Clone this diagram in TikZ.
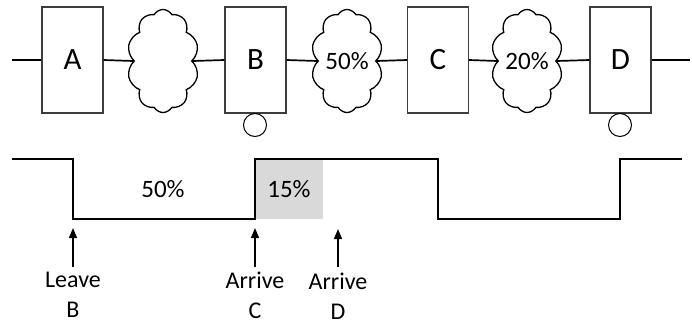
\documentclass[tikz,border=0pt]{standalone}
\usepackage{fontspec}
\setmainfont{Carlito}
\usetikzlibrary{shapes.symbols,arrows.meta}
\definecolor{cellgray}{RGB}{217,217,217}
\definecolor{boxline}{RGB}{60,60,60}
\begin{document}
\begin{tikzpicture}[x=1pt,y=-1pt,
  stage/.style={draw=boxline,line width=1.1pt,fill=white,minimum width=61pt,minimum height=106pt,inner sep=0pt,font=\fontsize{31}{31}\selectfont},
  link/.style={cloud,cloud puffs=10,cloud puff arc=120,cloud ignores aspect,draw,line width=1.3pt,fill=white,minimum width=72pt,minimum height=103pt,inner sep=0pt,font=\fontsize{25}{25}\selectfont},
  wheel/.style={circle,draw=black,line width=1pt,minimum size=23pt,inner sep=0pt},
  wire/.style={line width=1.7pt},
  pct/.style={font=\fontsize{25}{25}\selectfont,inner sep=0pt},
  lbl/.style={font=\fontsize{24}{24}\selectfont,inner sep=0pt,align=center},
  marker/.style={line width=1.3pt,-{Triangle[width=8pt,length=10pt]}}]
\useasboundingbox (0,0) rectangle (692,325);

% top chain of stages and links
\node[stage] (A) at (72.5,60) {A};
\node[link]  (L1) at (163,61) {};
\node[stage] (B) at (255.5,60) {B};
\node[link]  (L2) at (347,61) {50\%};
\node[stage] (C) at (438,60) {C};
\node[link]  (L3) at (527,61) {20\%};
\node[stage] (D) at (620.5,60) {D};
\node[wheel] (wB) at (255,125) {};
\node[wheel] (wD) at (620,125) {};
\coordinate (in) at (12,60);
\coordinate (out) at (690,60);
\draw[wire] (in) -- (A.west);
\draw[wire] (A.east) -- (L1.west);
\draw[wire] (L1.east) -- (B.west);
\draw[wire] (B.east) -- (L2.west);
\draw[wire] (L2.east) -- (C.west);
\draw[wire] (C.east) -- (L3.west);
\draw[wire] (L3.east) -- (D.west);
\draw[wire] (D.east) -- (out);

% timing waveform
\fill[cellgray] (255,159) rectangle (323,219);
\draw[wire] (12,159) -- (73,159) -- (73,219) -- (255,219) -- (255,159)
  -- (438,159) -- (438,219) -- (620,219) -- (620,159) -- (682,159);
\node[pct] (p50) at (163,189) {50\%};
\node[pct] (p15) at (289,189) {15\%};

% event markers
\node[lbl] (tB) at (73,295) {Leave\\[6pt]B};
\node[lbl] (tC) at (255,295) {Arrive\\[6pt]C};
\node[lbl] (tD) at (338,296) {Arrive\\[6pt]D};
\coordinate (hB) at (73,228);
\coordinate (hC) at (255,228);
\coordinate (hD) at (338,229);
\draw[marker] (73,267) -- (hB);
\draw[marker] (255,267) -- (hC);
\draw[marker] (338,267) -- (hD);
\end{tikzpicture}
\end{document}
